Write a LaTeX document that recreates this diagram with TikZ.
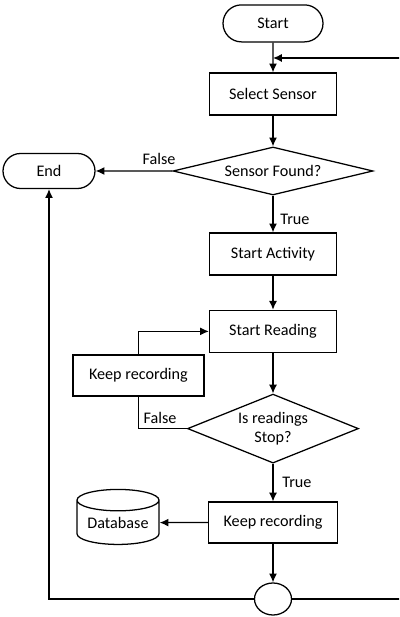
\documentclass[tikz,border=0pt]{standalone}
\usepackage{fontspec}
\setmainfont{Carlito}
\usetikzlibrary{arrows.meta,shapes.geometric,shapes.misc}
\tikzstyle{every node}=[font=\fontsize{11.5}{13.5}\selectfont, inner sep=0pt]
\tikzset{box/.style={rectangle, draw, minimum width=3.175cm, minimum height=1.05cm},
  term/.style={rounded rectangle, draw, minimum width=2.5cm, minimum height=0.925cm},
  decide/.style={diamond, draw, align=center},
  store/.style={cylinder, draw, shape border rotate=90, shape aspect=0.35,
      minimum width=2.05cm, minimum height=1.375cm},
  arr/.style={-{Latex[length=2.2mm,width=2mm]}}}

\begin{document}
\begin{tikzpicture}[line width=0.9pt]
    \useasboundingbox (0,0) rectangle (9.975,15.425);
    \clip (0,0) rectangle (9.975,15.425);
    \node[term] (start) at (6.825,14.84) {Start};
    \node[box] (select) at (6.825,13.075) {Select Sensor};
    \node[decide, minimum width=5cm, minimum height=1.2cm, shape aspect=4.2] (found) at (6.825,11.15) {Sensor Found?};
    \node[term, minimum width=2.3cm, minimum height=0.875cm] (endnode) at (1.225,11.15) {End};
    \node[box] (activity) at (6.825,9.075) {Start Activity};
    \node[box] (reading) at (6.825,7.14) {Start Reading};
    \node[box, minimum width=3.275cm, minimum height=1.025cm] (keepA) at (3.46,6.04) {Keep recording};
    \node[decide, minimum width=4.275cm, minimum height=1.725cm, shape aspect=2.5] (stop) at (6.825,4.71) {Is readings\\Stop?};
    \node[box, minimum width=3.225cm, minimum height=1.025cm] (keepB) at (6.825,2.36) {Keep recording};
    \node[store] (db) at (2.95,2.36) {Database};
    \node[ellipse, draw, minimum width=0.925cm, minimum height=0.8cm] (join) at (6.825,0.45) {};
    \coordinate (merge) at (6.825,13.975);
    \node (falseA) at (3.975,11.45) {False};
    \node (trueA) at (7.375,9.95) {True};
    \node (falseB) at (4.0,4.975) {False};
    \node (trueB) at (7.425,3.375) {True};

    \draw[arr] (start) -- (select);
    \draw[arr] (select) -- (found);
    \draw[arr] (found) -- (endnode);
    \draw[arr] (found) -- (activity);
    \draw[arr] (activity) -- (reading);
    \draw[arr] (reading) -- (stop);
    \draw[arr] (keepA.north) |- (reading.west);
    \draw (stop.west) -| (keepA.south);
    \draw[arr] (stop) -- (keepB);
    \draw[arr] (keepB) -- (db);
    \draw[arr] (keepB) -- (join);
    \draw[arr] (join.west) -| (endnode.south);
    \draw[arr] (join.east) -- ++(3.4,0) |- (merge);
\end{tikzpicture}
\end{document}
